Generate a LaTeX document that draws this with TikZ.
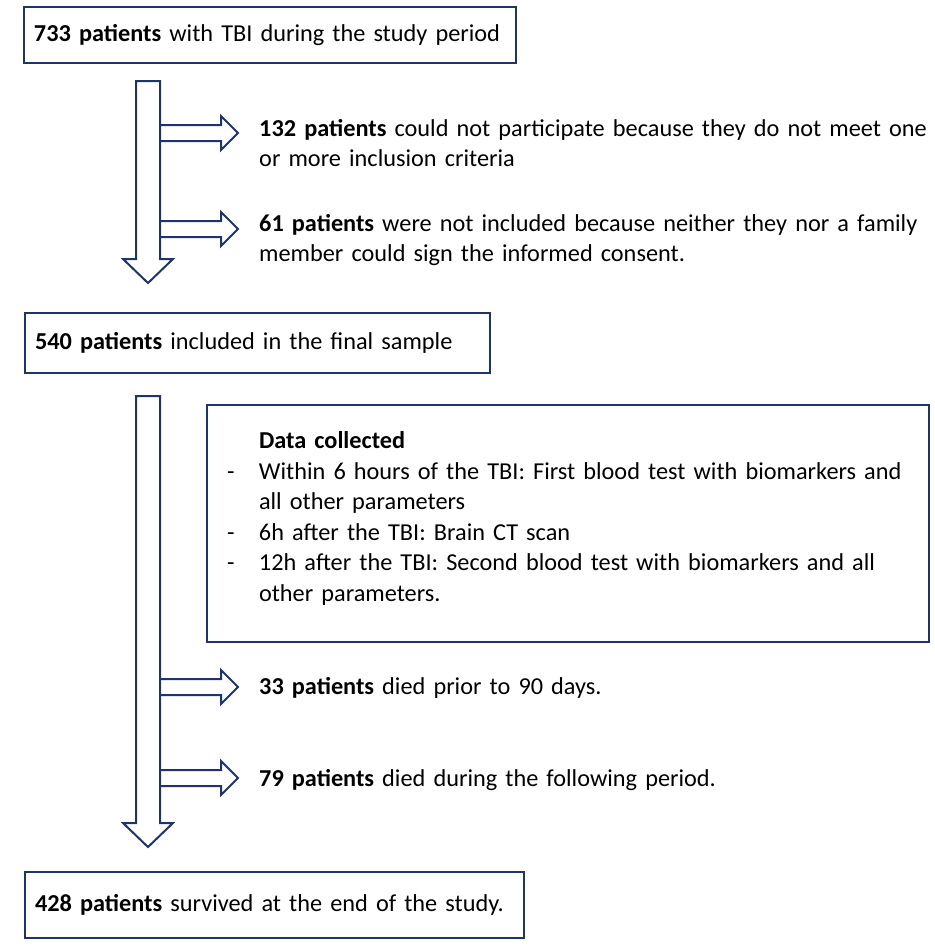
\documentclass[tikz,border=0pt]{standalone}
\usepackage{fontspec}
\setmainfont{Carlito}
\usetikzlibrary{calc}
\definecolor{navy}{RGB}{31,52,105}
\tikzset{
  txt/.style={font=\fontsize{24.3pt}{30.6pt}\selectfont},
  box/.style={txt, draw=navy, line width=2.5pt, anchor=north west, outer sep=0pt,
    inner xsep=10pt, inner ysep=0pt, align=left},
  blockarrow/.style={draw=navy, line width=2pt, line join=miter},
  note/.style={txt, anchor=base west, inner sep=0pt, align=left, text width=676pt}
}
% down block arrow: top centre -> tip
\newcommand{\vflow}[2]{%
  \draw[blockarrow] let \p1=(#1), \p2=(#2) in
    (\x1-12pt,\y1) -- (\x1+12pt,\y1) -- (\x1+12pt,\y2+24pt) -- (\x1+25pt,\y2+24pt)
    -- (\x2,\y2) -- (\x1-25pt,\y2+24pt) -- (\x1-12pt,\y2+24pt) -- cycle;}
% side block arrow: shaft edge -> tip
\newcommand{\hflow}[2]{%
  \draw[blockarrow] let \p1=(#1), \p2=(#2) in
    (\x1,\y1+8pt) -- (\x2-17pt,\y1+8pt) -- (\x2-17pt,\y1+17pt) -- (\x2,\y1)
    -- (\x2-17pt,\y1-17pt) -- (\x2-17pt,\y1-8pt) -- (\x1,\y1-8pt);}
\newcommand{\dashline}{\makebox[32pt][l]{-}}
\begin{document}
\begin{tikzpicture}[x=1pt, y=-1pt]
  \useasboundingbox (0,0) rectangle (935,946);

  % boxes
  \node[box, text width=472pt, minimum height=56pt] (total) at (24,7)
    {\textbf{733 patients} with TBI during the study period};
  \node[box, text width=445pt, minimum height=60pt] (sample) at (25,313)
    {\textbf{540 patients} included in the final sample};
  \node[box, text width=682pt, inner xsep=20pt, minimum height=237pt] (data) at (207,405)
    {\hspace*{32pt}\textbf{Data collected}\\
     \dashline Within 6 hours of the TBI: First blood test with biomarkers and\\
     \hspace*{32pt}all other parameters\\
     \dashline 6h after the TBI: Brain CT scan\\
     \dashline 12h after the TBI: Second blood test with biomarkers and all\\
     \hspace*{32pt}other parameters.\rule[-14pt]{0pt}{0pt}};
  \node[box, text width=479pt, minimum height=66pt] (survived) at (25,872)
    {\textbf{428 patients} survived at the end of the study.};

  % side notes
  \node[note] (excl1) at (259,136)
    {\textbf{132 patients} could not participate because they do not meet one\\
     or more inclusion criteria};
  \node[note] (excl2) at (259,231)
    {\textbf{61 patients} were not included because neither they nor a family\\
     member could sign the informed consent.};
  \node[note] (died1) at (259,694) {\textbf{33 patients} died prior to 90 days.};
  \node[note] (died2) at (259,786) {\textbf{79 patients} died during the following period.};

  % arrow ends
  \coordinate (top1) at (148,81);
  \coordinate (tip1) at (148,283);
  \coordinate (b1) at (160,133);
  \coordinate (e1) at (238,133);
  \coordinate (b2) at (160,229);
  \coordinate (e2) at (238,229);
  \coordinate (top2) at (148,396);
  \coordinate (tip2) at (148,847);
  \coordinate (b3) at (160,687);
  \coordinate (e3) at (238,687);
  \coordinate (b4) at (160,778);
  \coordinate (e4) at (238,778);

  \vflow{top1}{tip1}
  \hflow{b1}{e1}
  \hflow{b2}{e2}
  \vflow{top2}{tip2}
  \hflow{b3}{e3}
  \hflow{b4}{e4}
\end{tikzpicture}
\end{document}
